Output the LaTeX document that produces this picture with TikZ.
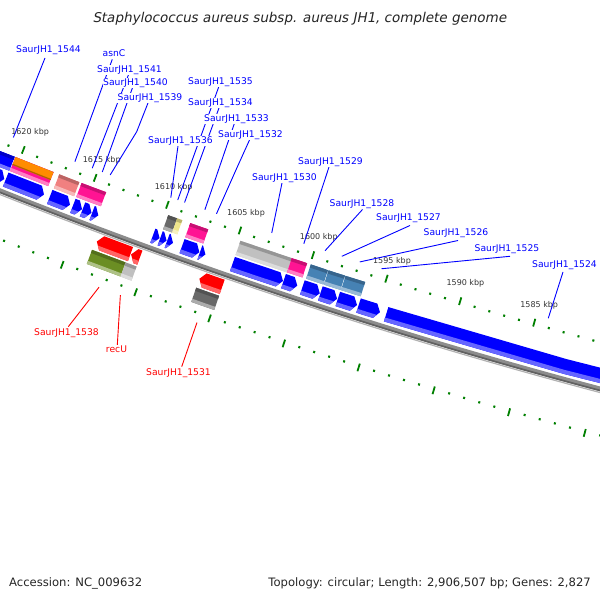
\documentclass[tikz,border=0pt]{standalone}
\usepackage{fontspec}
\setmainfont{DejaVu Sans}
\newfontfamily\titlefont{DejaVu Sans}[FakeSlant=0.2]
\definecolor{gblue}{RGB}{0,0,255}
\definecolor{gred}{RGB}{255,0,0}
\definecolor{gpink}{RGB}{255,20,147}
\definecolor{gorange}{RGB}{255,140,0}
\definecolor{gsalmon}{RGB}{240,128,128}
\definecolor{glgray}{RGB}{192,192,192}
\definecolor{gdgray}{RGB}{105,105,105}
\definecolor{gkhaki}{RGB}{240,230,140}
\definecolor{gsteel}{RGB}{70,130,180}
\definecolor{golive}{RGB}{107,142,35}
\definecolor{gtick}{RGB}{0,128,0}
\definecolor{gback}{RGB}{140,140,140}

\tikzset{gm/.cd, p/.store in=\gmp, d/.store in=\gmd, p=1600, d=0}
\tikzdeclarecoordinatesystem{gm}{%
  \tikzset{gm/.cd,#1}%
  \pgfmathsetmacro\gmang{251.75+(1600-(\gmp))*0.1695}%
  \pgfmathsetmacro\gmrad{5258-(\gmd)}%
  \pgfpointadd{\pgfpoint{1945pt}{5294pt}}{\pgfpointpolar{\gmang}{\gmrad pt}}%
}

% forward arrow, head at p2 (smaller p)
\newcommand{\farrow}[5]{%
  \pgfmathsetmacro\hL{min(0.33,(#1)-(#2))}%
  \pgfmathsetmacro\pH{(#2)+\hL}%
  \pgfmathsetmacro\pM{((#1)+\pH)/2}%
  \pgfmathsetmacro\dM{((#3)+(#4))/2}%
  \pgfmathsetmacro\dS{(#3)+((#4)-(#3))*0.27}%
  \pgfmathsetmacro\pS{(#2)+\hL*(1-(\dS-(#3))/(\dM-(#3)))}%
  \fill[#5] (gm cs:p=#1,d=#3) -- (gm cs:p=\pM,d=#3) -- (gm cs:p=\pH,d=#3) -- (gm cs:p=#2,d=\dM) -- (gm cs:p=\pH,d=#4) -- (gm cs:p=\pM,d=#4) -- (gm cs:p=#1,d=#4) -- cycle;
  \fill[#5!60!white] (gm cs:p=#1,d=#3) -- (gm cs:p=\pM,d=#3) -- (gm cs:p=\pH,d=#3) -- (gm cs:p=\pS,d=\dS) -- (gm cs:p=\pM,d=\dS) -- (gm cs:p=#1,d=\dS) -- cycle;
}
% reverse arrow, head at p1 (larger p)
\newcommand{\rarrow}[5]{%
  \pgfmathsetmacro\hL{min(0.33,(#1)-(#2))}%
  \pgfmathsetmacro\pH{(#1)-\hL}%
  \pgfmathsetmacro\pM{((#2)+\pH)/2}%
  \pgfmathsetmacro\dM{((#3)+(#4))/2}%
  \pgfmathsetmacro\dS{(#3)+((#4)-(#3))*0.27}%
  \pgfmathsetmacro\pS{(#1)-\hL*(1-(\dS-(#3))/(\dM-(#3)))}%
  \fill[#5] (gm cs:p=#2,d=#3) -- (gm cs:p=\pM,d=#3) -- (gm cs:p=\pH,d=#3) -- (gm cs:p=#1,d=\dM) -- (gm cs:p=\pH,d=#4) -- (gm cs:p=\pM,d=#4) -- (gm cs:p=#2,d=#4) -- cycle;
  \fill[#5!60!white] (gm cs:p=#2,d=#3) -- (gm cs:p=\pM,d=#3) -- (gm cs:p=\pH,d=#3) -- (gm cs:p=\pS,d=\dS) -- (gm cs:p=\pM,d=\dS) -- (gm cs:p=#2,d=\dS) -- cycle;
}
% COG box
\newcommand{\cog}[5]{%
  \pgfmathsetmacro\cA{(#3)+((#4)-(#3))*0.22}%
  \pgfmathsetmacro\cB{(#4)-((#4)-(#3))*0.22}%
  \pgfmathsetmacro\cM{((#1)+(#2))/2}%
  \fill[#5] (gm cs:p=#1,d=#3) -- (gm cs:p=\cM,d=#3) -- (gm cs:p=#2,d=#3) -- (gm cs:p=#2,d=#4) -- (gm cs:p=\cM,d=#4) -- (gm cs:p=#1,d=#4) -- cycle;
  \fill[#5!55!white] (gm cs:p=#1,d=#3) -- (gm cs:p=\cM,d=#3) -- (gm cs:p=#2,d=#3) -- (gm cs:p=#2,d=\cA) -- (gm cs:p=\cM,d=\cA) -- (gm cs:p=#1,d=\cA) -- cycle;
  \fill[#5!78!black] (gm cs:p=#1,d=\cB) -- (gm cs:p=\cM,d=\cB) -- (gm cs:p=#2,d=\cB) -- (gm cs:p=#2,d=#4) -- (gm cs:p=\cM,d=#4) -- (gm cs:p=#1,d=#4) -- cycle;
}

\tikzset{
  tickmaj/.style={draw=gtick, line width=1.8pt},
  tickmin/.style={draw=gtick, line width=2pt},
  ticklbl/.style={font=\fontsize{8}{9}\selectfont, text=black!80, inner sep=0pt},
  lblb/.style={font=\fontsize{9.2}{11}\selectfont, text=gblue, fill=white, inner sep=0.6pt},
  lblr/.style={font=\fontsize{9.2}{11}\selectfont, text=gred, fill=white, inner sep=0.6pt},
  lnb/.style={draw=gblue, line width=0.9pt},
  lnr/.style={draw=gred, line width=0.9pt},
}

\begin{document}
\begin{tikzpicture}[x=1pt,y=1pt]
\useasboundingbox (0,0) rectangle (600,600);
\fill[white] (0,0) rectangle (600,600);
\begin{scope}
\clip (0,0) rectangle (600,600);
% ticks
\foreach \k in {1577,...,1624} {
  \pgfmathtruncatemacro\km{mod(\k,5)}
  \ifnum\km=0
    \draw[tickmaj] (gm cs:p=\k,d=42.5) -- (gm cs:p=\k,d=50.5);
    \draw[tickmaj] (gm cs:p=\k,d=-42.5) -- (gm cs:p=\k,d=-50.5);
  \else
    \draw[tickmin] (gm cs:p=\k,d=44) -- (gm cs:p=\k,d=46.2);
    \draw[tickmin] (gm cs:p=\k,d=-44) -- (gm cs:p=\k,d=-46.2);
  \fi
}
% backbone
\draw[line width=1.2pt, black!30] (gm cs:p=1624,d=-3.6) arc[start angle=247.682, end angle=255.6485, radius=5261.6];
\draw[line width=4.6pt, gback] (gm cs:p=1624,d=0) arc[start angle=247.682, end angle=255.6485, radius=5258];
\draw[line width=1.7pt, black!62] (gm cs:p=1624,d=-1.6) arc[start angle=247.682, end angle=255.6485, radius=5259.6];

% track 1: forward genes
\farrow{1622.0}{1620.45}{5}{20}{gblue}
\farrow{1620.35}{1617.7}{5}{20}{gblue}
\farrow{1617.3}{1615.9}{5}{20}{gblue}
\farrow{1615.7}{1615.07}{5}{20}{gblue}
\farrow{1615.03}{1614.42}{5}{20}{gblue}
\farrow{1614.38}{1613.95}{5}{20}{gblue}
\farrow{1610.2}{1609.74}{5}{20}{gblue}
\farrow{1609.70}{1609.26}{5}{20}{gblue}
\farrow{1609.22}{1608.82}{5}{20}{gblue}
\farrow{1608.2}{1607.02}{5}{20}{gblue}
\farrow{1606.98}{1606.6}{5}{20}{gblue}
\farrow{1604.75}{1601.32}{5}{20}{gblue}
\farrow{1601.28}{1600.35}{5}{20}{gblue}
\farrow{1600.0}{1598.82}{5}{20}{gblue}
\farrow{1598.78}{1597.65}{5}{20}{gblue}
\farrow{1597.6}{1596.3}{5}{20}{gblue}
\farrow{1596.2}{1594.75}{5}{20}{gblue}
\farrow{1594.33}{1570}{5}{20}{gblue}

% track 2: COG boxes
\cog{1622}{1620.35}{22}{37}{gblue}
\cog{1620.3}{1617.65}{22}{37}{gpink}
\fill[gorange] (gm cs:p=1620.3,d=28.5) -- (gm cs:p=1618.97,d=28.5) -- (gm cs:p=1617.65,d=28.5) -- (gm cs:p=1617.65,d=37) -- (gm cs:p=1618.97,d=37) -- (gm cs:p=1620.3,d=37) -- cycle;
\fill[gorange!70!black] (gm cs:p=1620.3,d=28.5) -- (gm cs:p=1618.97,d=28.5) -- (gm cs:p=1617.65,d=28.5) -- (gm cs:p=1617.65,d=29.7) -- (gm cs:p=1618.97,d=29.7) -- (gm cs:p=1620.3,d=29.7) -- cycle;
\cog{1617.25}{1615.86}{22}{37}{gsalmon}
\cog{1615.7}{1614.0}{22}{37}{gpink}
\cog{1609.72}{1609.1}{22}{37}{gdgray}
\cog{1609.1}{1608.75}{22}{37}{gkhaki}
\cog{1608.2}{1606.96}{22}{37}{gpink}
\cog{1604.75}{1601.25}{22}{37}{glgray}
\cog{1601.25}{1600.2}{22}{37}{gpink}
\cog{1599.95}{1598.78}{22}{37}{gsteel}
\cog{1598.74}{1597.62}{22}{37}{gsteel}
\cog{1597.58}{1596.25}{22}{37}{gsteel}

% track -1: reverse genes
\rarrow{1613.45}{1611.15}{-20}{-5}{gred}
\rarrow{1611.1}{1610.5}{-20}{-5}{gred}
\rarrow{1606.45}{1604.9}{-20}{-5}{gred}
% track -2: COG boxes
\cog{1613.55}{1611.25}{-37}{-22}{golive}
\cog{1611.25}{1610.5}{-37}{-22}{glgray}
\cog{1606.45}{1604.9}{-37}{-22}{gdgray}
\end{scope}

% tick labels
\foreach \k in {1585,1590,...,1620} {
  \node[ticklbl] (t\k) at (gm cs:p=\k,d=65) {\k\ kbp};
}

% label connector end points (at features)
\coordinate (e1544) at (gm cs:p=1620.9,d=54.5);
\coordinate (easnC) at (gm cs:p=1616.6,d=54.5);
\coordinate (e1541) at (gm cs:p=1615.4,d=54.5);
\coordinate (e1540) at (gm cs:p=1614.7,d=54.5);
\coordinate (e1539) at (gm cs:p=1614.15,d=54.5);
\coordinate (e1536) at (gm cs:p=1609.95,d=54.5);
\coordinate (e1535) at (gm cs:p=1609.47,d=54.5);
\coordinate (e1534) at (gm cs:p=1609.0,d=54.5);
\coordinate (e1533) at (gm cs:p=1607.6,d=54.5);
\coordinate (e1532) at (gm cs:p=1606.8,d=54.5);
\coordinate (e1530) at (gm cs:p=1603.0,d=54.5);
\coordinate (e1529) at (gm cs:p=1600.8,d=54.5);
\coordinate (e1528) at (gm cs:p=1599.35,d=54.5);
\coordinate (e1527) at (gm cs:p=1598.2,d=54.5);
\coordinate (e1526) at (gm cs:p=1596.98,d=54.5);
\coordinate (e1525) at (gm cs:p=1595.5,d=54.5);
\coordinate (e1524) at (gm cs:p=1584.2,d=54.5);
\coordinate (e1538) at (gm cs:p=1612.3,d=-54.5);
\coordinate (erecU) at (gm cs:p=1610.85,d=-54.5);
\coordinate (e1531) at (gm cs:p=1605.67,d=-54.5);
% connector start points (at labels)
\coordinate (s1544) at (45,542);
\coordinate (sasnC) at (112.3,540.7);
\coordinate (s1541) at (128.4,525);
\coordinate (s1540) at (132.4,512);
\coordinate (s1539) at (148,497);
\coordinate (b1539) at (136.7,468.3);
\coordinate (s1536) at (178,454);
\coordinate (s1535) at (218.7,513);
\coordinate (s1534) at (219,492);
\coordinate (s1533) at (234.2,476);
\coordinate (s1532) at (249.5,460);
\coordinate (b1532) at (236.7,431.7);
\coordinate (s1530) at (282,417);
\coordinate (s1529) at (329,433);
\coordinate (s1528) at (362.5,390.5);
\coordinate (s1527) at (410,374.5);
\coordinate (s1526) at (458,359.5);
\coordinate (s1525) at (510,343.7);
\coordinate (s1524) at (563,328);
\coordinate (s1538) at (68.3,273.3);
\coordinate (srecU) at (117.3,255);
\coordinate (s1531) at (181.7,233.3);

% connectors
\draw[lnb] (s1544) -- (e1544);
\draw[lnb] (sasnC) -- (easnC);
\draw[lnb] (s1541) -- (e1541);
\draw[lnb] (s1540) -- (e1540);
\draw[lnb] (s1539) -- (b1539) -- (e1539);
\draw[lnb] (s1536) -- (e1536);
\draw[lnb] (s1535) -- (e1535);
\draw[lnb] (s1534) -- (e1534);
\draw[lnb] (s1533) -- (e1533);
\draw[lnb] (s1532) -- (b1532) -- (e1532);
\draw[lnb] (s1530) -- (e1530);
\draw[lnb] (s1529) -- (e1529);
\draw[lnb] (s1528) -- (e1528);
\draw[lnb] (s1527) -- (e1527);
\draw[lnb] (s1526) -- (e1526);
\draw[lnb] (s1525) -- (e1525);
\draw[lnb] (s1524) -- (e1524);
\draw[lnr] (s1538) -- (e1538);
\draw[lnr] (srecU) -- (erecU);
\draw[lnr] (s1531) -- (e1531);

% labels
\node[lblb] (l1544) at (48.5,550) {SaurJH1\_1544};
\node[lblb] (lasnC) at (114,547) {asnC};
\node[lblb] (l1541) at (129.5,530) {SaurJH1\_1541};
\node[lblb] (l1540) at (135.5,517) {SaurJH1\_1540};
\node[lblb] (l1539) at (150,502) {SaurJH1\_1539};
\node[lblb] (l1535) at (220.5,518) {SaurJH1\_1535};
\node[lblb] (l1534) at (220.5,497) {SaurJH1\_1534};
\node[lblb] (l1533) at (236.5,481) {SaurJH1\_1533};
\node[lblb] (l1532) at (250.5,465) {SaurJH1\_1532};
\node[lblb] (l1536) at (180.5,459) {SaurJH1\_1536};
\node[lblb] (l1529) at (330.5,438) {SaurJH1\_1529};
\node[lblb] (l1530) at (284.5,422) {SaurJH1\_1530};
\node[lblb] (l1528) at (362,396) {SaurJH1\_1528};
\node[lblb] (l1527) at (408.5,382) {SaurJH1\_1527};
\node[lblb] (l1526) at (456,367) {SaurJH1\_1526};
\node[lblb] (l1525) at (507,351) {SaurJH1\_1525};
\node[lblb] (l1524) at (564.5,335) {SaurJH1\_1524};
\node[lblr] (l1538) at (66.5,267.3) {SaurJH1\_1538};
\node[lblr] (lrecU) at (116.5,251) {recU};
\node[lblr] (l1531) at (178.5,226.7) {SaurJH1\_1531};

% title and footer
\node[font=\titlefont\fontsize{13.5}{16}\selectfont, text=black!85, inner sep=0pt] (title) at (299.5,581) {Staphylococcus aureus subsp. aureus JH1, complete genome};
\node[font=\fontsize{11.6}{14}\selectfont, text=black!85, anchor=west, inner sep=0pt] (acc) at (9,17) {Accession: NC\_009632};
\node[font=\fontsize{11.6}{14}\selectfont, text=black!85, anchor=east, inner sep=0pt] (topo) at (591,17) {Topology: circular; Length: 2,906,507 bp; Genes: 2,827};
\end{tikzpicture}
\end{document}
